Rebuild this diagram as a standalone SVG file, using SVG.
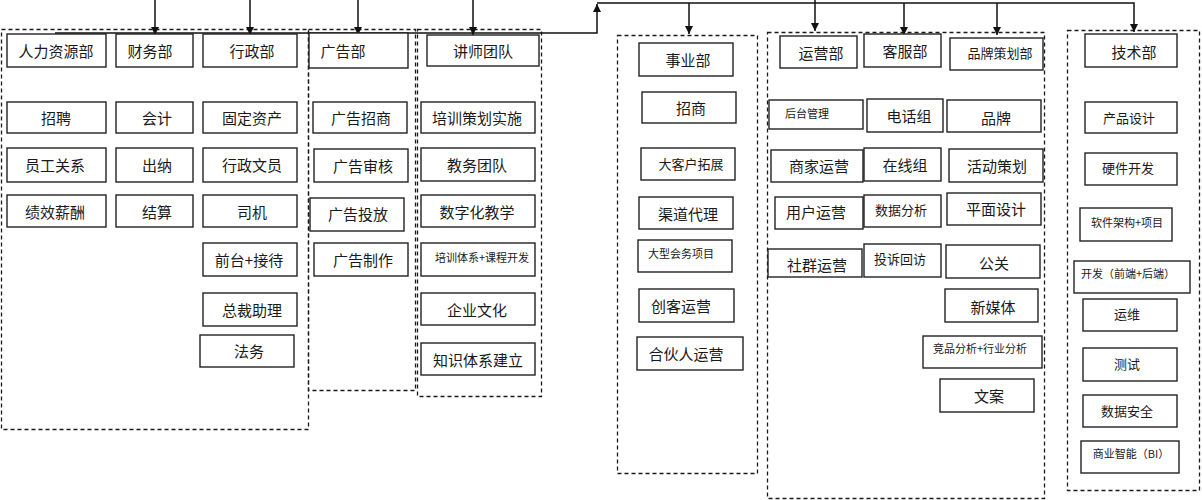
<svg xmlns="http://www.w3.org/2000/svg" width="1202" height="500" viewBox="0 0 1202 500">
<defs>
<style>
.box{fill:#fff;stroke:#222;stroke-width:1.4}
.grp{fill:none;stroke:#1a1a1a;stroke-width:1.3;stroke-dasharray:4 3}
.t{font-family:"Noto Sans CJK SC","Noto Sans",sans-serif;font-size:15px;fill:#1a1a1a;text-anchor:middle;dominant-baseline:central}
.m{font-size:13px}
.s{font-size:11px}
.ln{fill:none;stroke:#111;stroke-width:1.5}
</style>
<marker id="ah" viewBox="0 0 10 10" refX="10" refY="5" markerWidth="8" markerHeight="9" markerUnits="userSpaceOnUse" orient="auto">
<path d="M0,0 L10,5 L0,10 z" fill="#111"/>
</marker>
</defs>
<rect width="1202" height="500" fill="#fff"/>

<!-- containers -->
<g id="grp-admin"><rect class="grp" x="1.5" y="29.5" width="307" height="400"/></g>
<g id="grp-ad"><rect class="grp" x="308.5" y="29.5" width="107" height="361"/></g>
<g id="grp-lect"><rect class="grp" x="417.5" y="29.5" width="124" height="367"/></g>
<g id="grp-biz"><rect class="grp" x="617.5" y="35.5" width="140" height="438"/></g>
<g id="grp-ops"><rect class="grp" x="767.5" y="32.5" width="277" height="466"/></g>
<g id="grp-tech"><rect class="grp" x="1067.5" y="30.5" width="132" height="460"/></g>

<!-- connectors -->
<g id="connectors">
<path class="ln" d="M55,33 H597 V4" marker-end="url(#ah)"/>
<path class="ln" d="M597,3 H1134 V32" marker-end="url(#ah)"/>
<path class="ln" d="M155,0 V35" marker-end="url(#ah)"/>
<path class="ln" d="M250,0 V35" marker-end="url(#ah)"/>
<path class="ln" d="M358,0 V35" marker-end="url(#ah)"/>
<path class="ln" d="M473,0 V35" marker-end="url(#ah)"/>
<path class="ln" d="M689,3 V34" marker-end="url(#ah)"/>
<path class="ln" d="M815,0 V31" marker-end="url(#ah)"/>
<path class="ln" d="M904,3 V35" marker-end="url(#ah)"/>
<path class="ln" d="M997,3 V35" marker-end="url(#ah)"/>
</g>

<!-- column 1 -->
<g id="n-hr"><rect class="box" x="7" y="34" width="99" height="33"/><text class="t" x="56" y="50">人力资源部</text></g>
<g id="n-fin"><rect class="box" x="116" y="34" width="77" height="33"/><text class="t" x="150" y="50">财务部</text></g>
<g id="n-adm"><rect class="box" x="203" y="34" width="94" height="33"/><text class="t" x="252" y="50">行政部</text></g>
<g id="n-zp"><rect class="box" x="7" y="102" width="99" height="31"/><text class="t" x="56" y="117">招聘</text></g>
<g id="n-kj"><rect class="box" x="116" y="102" width="77" height="31"/><text class="t" x="157" y="117">会计</text></g>
<g id="n-gdzc"><rect class="box" x="203" y="102" width="94" height="31"/><text class="t" x="252" y="117">固定资产</text></g>
<g id="n-yggx"><rect class="box" x="7" y="148" width="99" height="34"/><text class="t" x="55" y="164">员工关系</text></g>
<g id="n-cn"><rect class="box" x="116" y="148" width="77" height="34"/><text class="t" x="157" y="164">出纳</text></g>
<g id="n-xzwy"><rect class="box" x="203" y="148" width="94" height="34"/><text class="t" x="252" y="164">行政文员</text></g>
<g id="n-jxxc"><rect class="box" x="7" y="195" width="99" height="32"/><text class="t" x="55" y="211">绩效薪酬</text></g>
<g id="n-js"><rect class="box" x="116" y="195" width="77" height="32"/><text class="t" x="157" y="211">结算</text></g>
<g id="n-sj"><rect class="box" x="203" y="195" width="94" height="32"/><text class="t" x="252" y="211">司机</text></g>
<g id="n-qt"><rect class="box" x="203" y="243" width="94" height="33"/><text class="t" x="249" y="259">前台+接待</text></g>
<g id="n-zczl"><rect class="box" x="203" y="293" width="94" height="33"/><text class="t" x="252" y="309">总裁助理</text></g>
<g id="n-fw"><rect class="box" x="200" y="335" width="94" height="32"/><text class="t" x="249" y="350">法务</text></g>

<!-- column 2 -->
<g id="n-ggb"><rect class="box" x="309" y="33" width="99" height="35"/><text class="t" x="343" y="50">广告部</text></g>
<g id="n-ggzs"><rect class="box" x="313" y="102" width="94" height="31"/><text class="t" x="361" y="117">广告招商</text></g>
<g id="n-ggsh"><rect class="box" x="314" y="149" width="94" height="33"/><text class="t" x="363" y="165">广告审核</text></g>
<g id="n-ggtf"><rect class="box" x="310" y="198" width="94" height="33"/><text class="t" x="358" y="213">广告投放</text></g>
<g id="n-ggzz"><rect class="box" x="314" y="243" width="94" height="33"/><text class="t" x="363" y="259">广告制作</text></g>

<!-- column 3 -->
<g id="n-jstd"><rect class="box" x="427" y="35" width="112" height="31"/><text class="t" x="483" y="50">讲师团队</text></g>
<g id="n-pxch"><rect class="box" x="421" y="102" width="114" height="31"/><text class="t" x="477" y="117">培训策划实施</text></g>
<g id="n-jwtd"><rect class="box" x="421" y="148" width="114" height="33"/><text class="t" x="477" y="164">教务团队</text></g>
<g id="n-szh"><rect class="box" x="421" y="195" width="114" height="32"/><text class="t" x="477" y="211">数字化教学</text></g>
<g id="n-pxtx"><rect class="box" x="421" y="243" width="114" height="33"/><text class="t s" x="482" y="257">培训体系+课程开发</text></g>
<g id="n-qywh"><rect class="box" x="421" y="293" width="114" height="32"/><text class="t" x="477" y="309">企业文化</text></g>
<g id="n-zstx"><rect class="box" x="421" y="343" width="114" height="32"/><text class="t" x="478" y="359">知识体系建立</text></g>

<!-- column 4 -->
<g id="n-syb"><rect class="box" x="639" y="43" width="94" height="33"/><text class="t" x="688" y="59">事业部</text></g>
<g id="n-zs"><rect class="box" x="642" y="92" width="94" height="31"/><text class="t" x="691" y="107">招商</text></g>
<g id="n-dkh"><rect class="box" x="641" y="148" width="94" height="32"/><text class="t m" x="691" y="163">大客户拓展</text></g>
<g id="n-qddl"><rect class="box" x="639" y="197" width="94" height="32"/><text class="t" x="688" y="213">渠道代理</text></g>
<g id="n-dxhw"><rect class="box" x="638" y="240" width="94" height="32"/><text class="t s" x="681" y="253">大型会务项目</text></g>
<g id="n-ckyy"><rect class="box" x="639" y="289" width="95" height="33"/><text class="t" x="681" y="305">创客运营</text></g>
<g id="n-hhr"><rect class="box" x="637" y="337" width="106" height="33"/><text class="t" x="686" y="353">合伙人运营</text></g>

<!-- column 5 -->
<g id="n-yyb"><rect class="box" x="780" y="36" width="77" height="32"/><text class="t" x="821" y="52">运营部</text></g>
<g id="n-kfb"><rect class="box" x="864" y="34" width="77" height="33"/><text class="t" x="905" y="50">客服部</text></g>
<g id="n-ppch"><rect class="box" x="950" y="38" width="93" height="32"/><text class="t m" x="1000" y="52">品牌策划部</text></g>
<g id="n-htgl"><rect class="box" x="769" y="100" width="94" height="29"/><text class="t s" x="807" y="113">后台管理</text></g>
<g id="n-dhz"><rect class="box" x="867" y="99" width="76" height="33"/><text class="t" x="909" y="115">电话组</text></g>
<g id="n-pp"><rect class="box" x="947" y="100" width="94" height="32"/><text class="t" x="996" y="117">品牌</text></g>
<g id="n-sjyy"><rect class="box" x="771" y="150" width="92" height="32"/><text class="t" x="819" y="165">商家运营</text></g>
<g id="n-zxz"><rect class="box" x="864" y="148" width="77" height="33"/><text class="t" x="905" y="164">在线组</text></g>
<g id="n-hdch"><rect class="box" x="949" y="149" width="94" height="33"/><text class="t" x="997" y="165">活动策划</text></g>
<g id="n-yhyy"><rect class="box" x="775" y="197" width="88" height="32"/><text class="t" x="816" y="211">用户运营</text></g>
<g id="n-sjfx"><rect class="box" x="864" y="195" width="77" height="32"/><text class="t m" x="901" y="209">数据分析</text></g>
<g id="n-pmsj"><rect class="box" x="947" y="193" width="94" height="32"/><text class="t" x="996" y="208">平面设计</text></g>
<g id="n-sqyy"><rect class="box" x="768" y="249" width="94" height="28"/><text class="t" x="817" y="264">社群运营</text></g>
<g id="n-tshf"><rect class="box" x="864" y="244" width="77" height="33"/><text class="t m" x="900" y="258">投诉回访</text></g>
<g id="n-gg"><rect class="box" x="946" y="245" width="94" height="33"/><text class="t" x="994" y="262">公关</text></g>
<g id="n-xmt"><rect class="box" x="945" y="289" width="93" height="33"/><text class="t" x="993" y="306">新媒体</text></g>
<g id="n-jpfx"><rect class="box" x="923" y="336" width="119" height="32"/><text class="t s" x="980" y="348">竞品分析+行业分析</text></g>
<g id="n-wa"><rect class="box" x="940" y="379" width="94" height="33"/><text class="t" x="989" y="395">文案</text></g>

<!-- column 6 -->
<g id="n-jsb"><rect class="box" x="1085" y="34" width="92" height="33"/><text class="t" x="1134" y="51">技术部</text></g>
<g id="n-cpsj"><rect class="box" x="1085" y="102" width="92" height="31"/><text class="t m" x="1129" y="117">产品设计</text></g>
<g id="n-yjkf"><rect class="box" x="1085" y="153" width="92" height="32"/><text class="t m" x="1128" y="167">硬件开发</text></g>
<g id="n-rjjg"><rect class="box" x="1080" y="208" width="92" height="33"/><text class="t s" x="1127" y="222">软件架构+项目</text></g>
<g id="n-kf"><rect class="box" x="1074" y="261" width="116" height="32"/><text class="t s" x="1128" y="273">开发（前端+后端）</text></g>
<g id="n-yw"><rect class="box" x="1083" y="299" width="94" height="32"/><text class="t m" x="1127" y="313">运维</text></g>
<g id="n-cs"><rect class="box" x="1083" y="348" width="94" height="33"/><text class="t m" x="1127" y="363">测试</text></g>
<g id="n-sjaq"><rect class="box" x="1083" y="395" width="94" height="32"/><text class="t m" x="1127" y="410">数据安全</text></g>
<g id="n-syzn"><rect class="box" x="1081" y="441" width="98" height="32"/><text class="t s" x="1131" y="453">商业智能（BI）</text></g>
</svg>
